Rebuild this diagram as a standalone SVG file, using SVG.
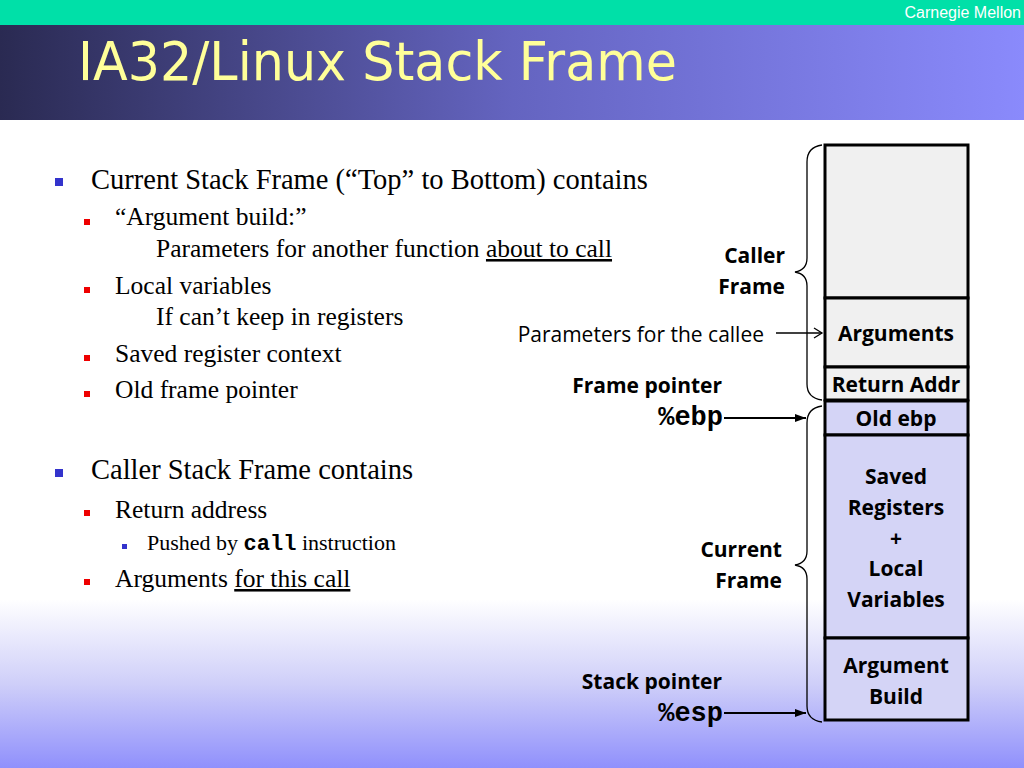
<svg xmlns="http://www.w3.org/2000/svg" width="1024" height="768" viewBox="0 0 1024 768">
<defs>
<linearGradient id="hdr" x1="0" y1="0" x2="1" y2="0">
<stop offset="0" stop-color="#2a2a52"/>
<stop offset="0.5" stop-color="#6464c0"/>
<stop offset="1" stop-color="#8a8afc"/>
</linearGradient>
<linearGradient id="bg" x1="0" y1="0" x2="0" y2="1">
<stop offset="0" stop-color="#ffffff"/>
<stop offset="0.78" stop-color="#ffffff"/>
<stop offset="0.89" stop-color="#cfcff9"/>
<stop offset="1" stop-color="#9090fc"/>
</linearGradient>
<marker id="open" markerWidth="12" markerHeight="12" refX="10" refY="6" orient="auto" markerUnits="userSpaceOnUse">
<path d="M2,1 L10,6 L2,11" fill="none" stroke="#000" stroke-width="1.3"/>
</marker>
<marker id="solid" markerWidth="12" markerHeight="10" refX="11" refY="5" orient="auto" markerUnits="userSpaceOnUse">
<path d="M0,1 L11,5 L0,9 Z" fill="#000"/>
</marker>
</defs>
<style>
.t1{font-family:"Liberation Serif","Times New Roman",serif;font-size:28.5px;fill:#000}
.t2{font-family:"Liberation Serif","Times New Roman",serif;font-size:25.5px;fill:#000}
.t3{font-family:"Liberation Serif","Times New Roman",serif;font-size:22px;fill:#000}
.mono{font-family:"Liberation Mono","Courier New",monospace;font-weight:bold}
.lbl{font-family:"Open Sans","Liberation Sans",sans-serif;font-weight:bold;font-size:21px;fill:#000}
.reg{font-family:"Open Sans","Liberation Sans",sans-serif;font-size:21px;fill:#000}
.box{font-family:"Open Sans","Liberation Sans",sans-serif;font-weight:bold;font-size:21px;fill:#000;text-anchor:middle}
.caller{fill:#f0f0f0;stroke:#000;stroke-width:3}
.cur{fill:#d4d4f6;stroke:#000;stroke-width:3}
.brace{fill:none;stroke:#000;stroke-width:1.3}
.b1{fill:#3333cc}
.b2{fill:#ee0000}
</style>
<rect x="0" y="0" width="1024" height="768" fill="url(#bg)"/>
<rect x="0" y="0" width="1024" height="25" fill="#00e0a8"/>
<rect x="0" y="25" width="1024" height="95" fill="url(#hdr)"/>
<text x="1021" y="18" font-family="Liberation Sans, Arial, sans-serif" font-size="16" fill="#ffffff" text-anchor="end">Carnegie Mellon</text>
<text x="78" y="80" font-family="DejaVu Sans, Verdana, sans-serif" font-size="54" fill="#ffff99" textLength="599" lengthAdjust="spacingAndGlyphs">IA32/Linux Stack Frame</text>

<g id="bullets">
<rect class="b1" x="55" y="178" width="8" height="8"/>
<text class="t1" x="91" y="189">Current Stack Frame (“Top” to Bottom) contains</text>
<rect class="b2" x="84" y="219" width="6" height="6"/>
<text class="t2" x="115" y="225">“Argument build:”</text>
<text class="t2" x="156" y="257">Parameters for another function <tspan text-decoration="underline">about to call</tspan></text>
<rect class="b2" x="84" y="287" width="6" height="6"/>
<text class="t2" x="115" y="294">Local variables</text>
<text class="t2" x="156" y="325">If can’t keep in registers</text>
<rect class="b2" x="84" y="355" width="6" height="6"/>
<text class="t2" x="115" y="362">Saved register context</text>
<rect class="b2" x="84" y="391" width="6" height="6"/>
<text class="t2" x="115" y="398">Old frame pointer</text>

<rect class="b1" x="55" y="469" width="8" height="8"/>
<text class="t1" x="91" y="479">Caller Stack Frame contains</text>
<rect class="b2" x="84" y="510" width="6" height="6"/>
<text class="t2" x="115" y="518">Return address</text>
<rect class="b1" x="122" y="544" width="5" height="5"/>
<text class="t3" x="147" y="550">Pushed by <tspan class="mono">call</tspan> instruction</text>
<rect class="b2" x="84" y="579" width="6" height="6"/>
<text class="t2" x="115" y="587">Arguments <tspan text-decoration="underline">for this call</tspan></text>
</g>

<g id="stack">
<g id="caller-frame"><rect class="caller" x="825" y="145" width="143" height="153"/></g>
<g id="arguments"><rect class="caller" x="825" y="298" width="143" height="69"/><text class="box" x="896" y="341">Arguments</text></g>
<g id="return-addr"><rect class="caller" x="825" y="367" width="143" height="33"/><text class="box" x="896" y="392">Return Addr</text></g>
<g id="old-ebp"><rect class="cur" x="825" y="401" width="143" height="34"/><text class="box" x="896" y="426">Old ebp</text></g>
<g id="saved-regs"><rect class="cur" x="825" y="435" width="143" height="203"/>
<text class="box" x="896" y="484">Saved</text><text class="box" x="896" y="515">Registers</text><text class="box" x="896" y="546">+</text><text class="box" x="896" y="576">Local</text><text class="box" x="896" y="607">Variables</text></g>
<g id="arg-build"><rect class="cur" x="825" y="638" width="143" height="82"/><text class="box" x="896" y="673">Argument</text><text class="box" x="896" y="704">Build</text></g>
</g>

<g id="labels">
<text class="lbl" x="785" y="263" text-anchor="end">Caller</text>
<text class="lbl" x="785" y="294" text-anchor="end">Frame</text>
<text class="reg" x="764" y="342" text-anchor="end">Parameters for the callee</text>
<text class="lbl" x="722" y="393" text-anchor="end">Frame pointer</text>
<text class="mono" x="723" y="425" font-size="27" text-anchor="end">%ebp</text>
<text class="lbl" x="782" y="557" text-anchor="end">Current</text>
<text class="lbl" x="782" y="588" text-anchor="end">Frame</text>
<text class="lbl" x="722" y="689" text-anchor="end">Stack pointer</text>
<text class="mono" x="723" y="721" font-size="27" text-anchor="end">%esp</text>
</g>

<g id="connectors">
<path class="brace" d="M822,145 Q807,147 807,162 L807,258 Q807,270 795,272 Q807,274 807,286 L807,384 Q807,398 822,400"/>
<path class="brace" d="M822,406 Q807,408 807,423 L807,551 Q807,563 795,565 Q807,567 807,579 L807,706 Q807,720 822,722"/>
<line x1="776" y1="333" x2="822" y2="333" stroke="#000" stroke-width="1.3" marker-end="url(#open)"/>
<line x1="724" y1="418" x2="806" y2="418" stroke="#000" stroke-width="2.2" marker-end="url(#solid)"/>
<line x1="724" y1="713" x2="806" y2="713" stroke="#000" stroke-width="2.2" marker-end="url(#solid)"/>
</g>
</svg>
